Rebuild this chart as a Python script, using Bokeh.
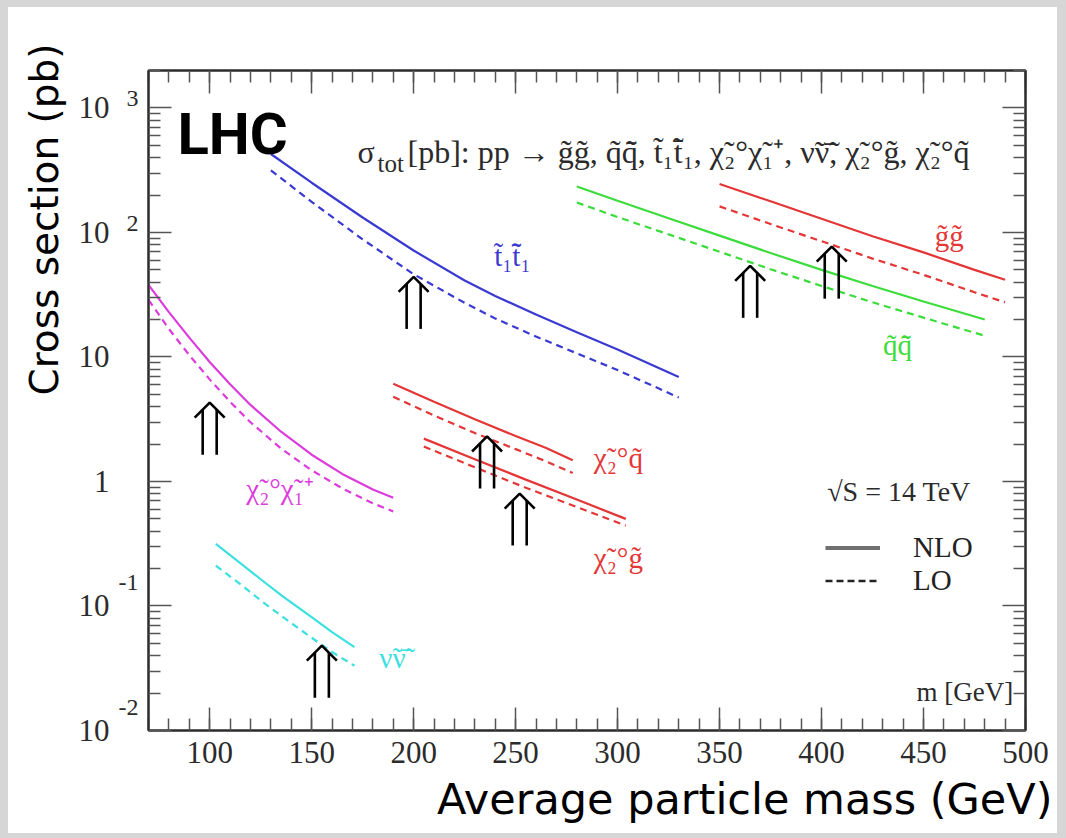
import math
from bokeh.plotting import figure
from bokeh.models import (FixedTicker, LinearAxis, LogAxis, Label, Legend, LegendItem, Title,
                          CustomJSTickFormatter, Range1d)
from bokeh.embed import file_html
from bokeh.resources import INLINE

TIL = "\u0303"   # combining tilde
BAR = "\u0304"   # combining macron
CHI = "\u03c7" + TIL
SUB1, SUB2, SUP_PLUS, DEG = "\u2081", "\u2082", "\u207a", "\u00b0"

# ---- cross sections at the LHC, sqrt(S) = 14 TeV (mass in GeV, sigma in pb) ----
gluino_mass = [350, 375, 400, 425, 450, 475, 490]
gluino_nlo = [245, 178, 129, 93.3, 69.2, 50.1, 41.7]
gluino_lo = [162, 117, 85.1, 61.7, 45.7, 33.1, 27.5]

squark_mass = [280, 300, 325, 350, 375, 400, 425, 450, 480]
squark_nlo = [234, 180, 130, 94.4, 68.4, 50.1, 37.2, 27.9, 20.0]
squark_lo = [174, 133, 96.6, 70.0, 50.7, 37.2, 27.5, 20.7, 14.8]

stop_mass = [130, 150, 175, 200, 225, 240, 260, 280, 300, 330]
stop_nlo = [427, 251, 132, 71.6, 41.2, 30.9, 21.9, 15.8, 11.5, 6.92]
stop_lo = [316, 176, 88.1, 46.2, 27.2, 20.4, 14.6, 10.7, 7.85, 4.73]

chargino_mass = [70, 80, 90, 100, 110, 120, 135, 150, 165, 180, 190]
chargino_nlo = [38.0, 22.9, 14.3, 9.12, 6.03, 4.12, 2.51, 1.64, 1.15, 0.861, 0.741]
chargino_lo = [28.8, 16.8, 10.35, 6.61, 4.37, 2.99, 1.84, 1.23, 0.881, 0.668, 0.575]

sneutrino_mass = [103, 115, 125, 136, 150, 160, 171]
sneutrino_nlo = [0.316, 0.221, 0.164, 0.119, 0.0813, 0.0617, 0.0468]
sneutrino_lo = [0.211, 0.150, 0.111, 0.0813, 0.0556, 0.0427, 0.0331]

neut_squark_mass = [190, 210, 230, 250, 265, 278]
neut_squark_nlo = [6.10, 4.37, 3.16, 2.32, 1.86, 1.48]
neut_squark_lo = [4.79, 3.39, 2.45, 1.82, 1.45, 1.17]

neut_gluino_mass = [205, 230, 255, 280, 304]
neut_gluino_nlo = [2.21, 1.51, 1.035, 0.716, 0.501]
neut_gluino_lo = [1.91, 1.30, 0.891, 0.624, 0.442]

# benchmark masses marked with double arrows (tip position)
arrow_mass = [100, 155, 200, 236, 252, 365, 405]
arrow_sigma = [4.3, 0.048, 44, 2.3, 0.80, 54, 77]

# axis ticks
x_major = [100, 150, 200, 250, 300, 350, 400, 450, 500]
x_minor = list(range(70, 501, 10))
y_major = [0.01, 0.1, 1, 10, 100, 1000]
y_base = ["10", "10", "1", "10", "10", "10"]
y_exp = ["-2", "-1", "", "", "2", "3"]
y_minor = [k * 10.0 ** e for e in range(-2, 4) for k in range(2, 10)]

BLUE, GREEN, RED = "#3a3ad2", "#3cdc3c", "#e43636"
MAGENTA, CYAN = "#dc3cdc", "#3ce0e0"
SERIF = "Liberation Serif"
SANS = "DejaVu Sans"
INK = "#2b2b2b"

PX_PER_DECADE = 124.4   # vertical size of one decade on the frame
PX_PER_GEV = 2.04       # horizontal size of one GeV on the frame

p = figure(width=1066, height=838, x_range=Range1d(70, 500), y_range=Range1d(0.01, 2000),
           y_axis_type="log", output_backend="svg", toolbar_location=None,
           min_border_left=148, min_border_right=41, min_border_top=70, min_border_bottom=108)
p.border_fill_color = None
p.background_fill_color = "white"
p.outline_line_color = INK
p.outline_line_width = 2
p.grid.visible = False
p.styles = {"background-color": "white",
            "box-shadow": "inset 8px 7px 0 0 #d6d6d6, inset -9px -5px 0 0 #d6d6d6"}

blank = CustomJSTickFormatter(code="return ''")


def style_axis(ax, ticks=True):
    ax.axis_line_color = INK if ticks else None
    ax.axis_line_width = 2
    ax.major_tick_in = 23 if ticks else 0
    ax.major_tick_out = 0
    ax.minor_tick_in = 12 if ticks else 0
    ax.minor_tick_out = 0
    ax.major_tick_line_color = "#555555" if ticks else None
    ax.minor_tick_line_color = "#555555" if ticks else None
    ax.major_tick_line_width = 1.5
    ax.minor_tick_line_width = 1.5
    ax.major_label_text_font = SERIF
    ax.major_label_text_color = INK


# bottom axis with labels, top axis mirrored
xb = p.xaxis[0]
xb.ticker = FixedTicker(ticks=x_major, minor_ticks=x_minor)
style_axis(xb)
xb.major_label_text_font_size = "31px"
xb.major_label_standoff = 11

ta = LinearAxis(ticker=FixedTicker(ticks=x_major, minor_ticks=x_minor), formatter=blank)
style_axis(ta)
ta.major_label_standoff = 0
p.add_layout(ta, "above")

# left axis: ticks only; the decade labels come from two label-only axes beside it
yl = p.yaxis[0]
yl.ticker = FixedTicker(ticks=y_major, minor_ticks=y_minor)
yl.formatter = blank
style_axis(yl)
yl.major_label_standoff = 0

exp_ticks, exp_text = [], {}
for v, e in zip(y_major, y_exp):
    if e:
        lift = 23 if e.startswith("-") else 9      # exponent raised above its decade
        pos = v * 10 ** (lift / PX_PER_DECADE)
        exp_ticks.append(pos)
        exp_text[pos] = e
ye = LogAxis(ticker=FixedTicker(ticks=exp_ticks, minor_ticks=[]), major_label_overrides=exp_text)
style_axis(ye, ticks=False)
ye.major_label_text_font_size = "24px"
ye.major_label_standoff = 10
p.add_layout(ye, "left")

yb = LogAxis(ticker=FixedTicker(ticks=y_major, minor_ticks=[]),
             major_label_overrides=dict(zip(y_major, y_base)))
style_axis(yb, ticks=False)
yb.major_label_text_font_size = "31px"
yb.major_label_standoff = 6
p.add_layout(yb, "left")

ra = LogAxis(ticker=FixedTicker(ticks=y_major, minor_ticks=y_minor), formatter=blank)
style_axis(ra)
ra.major_label_standoff = 0
p.add_layout(ra, "right")

# axis titles
p.add_layout(Title(text="Cross section (pb)", align="right", offset=-27, standoff=17,
                   text_font=SANS, text_font_size="39px", text_font_style="normal",
                   text_color="black"), "left")
p.add_layout(Title(text="Average particle mass (GeV)", align="right", offset=-27, standoff=13,
                   text_font=SANS, text_font_size="43px", text_font_style="normal",
                   text_color="black"), "below")

# NLO (solid) and LO (dashed) curves
series = [
    (gluino_mass, gluino_nlo, gluino_lo, RED),
    (squark_mass, squark_nlo, squark_lo, GREEN),
    (stop_mass, stop_nlo, stop_lo, BLUE),
    (chargino_mass, chargino_nlo, chargino_lo, MAGENTA),
    (sneutrino_mass, sneutrino_nlo, sneutrino_lo, CYAN),
    (neut_squark_mass, neut_squark_nlo, neut_squark_lo, RED),
    (neut_gluino_mass, neut_gluino_nlo, neut_gluino_lo, RED),
]
for m, nlo, lo, c in series:
    p.line(m, nlo, line_color=c, line_width=2.2)
    p.line(m, lo, line_color=c, line_width=2.2, line_dash="7 5")


# double arrows: sizes given in screen pixels, converted with the axis scales
def down(s, px):
    return s * 10 ** (-px / PX_PER_DECADE)


head_xs = [[m - 15 / PX_PER_GEV, m, m + 15 / PX_PER_GEV] for m in arrow_mass]
head_ys = [[down(s, 15), s, down(s, 15)] for s in arrow_sigma]
p.multi_line(head_xs, head_ys, line_color="black", line_width=2.6)
for side in (-1, 1):
    p.segment(x0=[m + side * 7 / PX_PER_GEV for m in arrow_mass],
              y0=[down(s, 7) for s in arrow_sigma],
              x1=[m + side * 7 / PX_PER_GEV for m in arrow_mass],
              y1=[down(s, 52) for s in arrow_sigma],
              line_color="black", line_width=2.6)


def note(x, y, text, color=INK, size="29px", align="center", font=SERIF, style="normal"):
    p.add_layout(Label(x=x, y=y, text=text, text_align=align, text_baseline="middle",
                       text_font=font, text_font_size=size, text_color=color,
                       text_font_style=style))


# curve labels
note(248.4, 65.2, "t" + TIL + SUB1 + "t" + TIL + BAR + SUB1, BLUE)
note(462.6, 93.6, "g" + TIL + "g" + TIL, RED)
note(437.2, 12.4, "q" + TIL + "q" + TIL + BAR, GREEN)
note(300.4, 1.537, CHI + SUB2 + DEG + "q" + TIL, RED)
note(300.4, 0.2415, CHI + SUB2 + DEG + "g" + TIL, RED)
note(134.5, 0.866, CHI + SUB2 + DEG + CHI + SUB1 + SUP_PLUS, MAGENTA)
note(189.6, 0.0379, "\u03bd" + TIL + "\u03bd" + TIL + BAR, CYAN)

# header
note(84.2, 618, "LHC", "black", "58px", "left", "Roboto", "bold")
note(172.5, 447, "\u03c3", INK, "32px", "left")
note(182.3, 355, "tot", INK, "25px", "left")
note(197.0, 447, "[pb]: pp \u2192 g" + TIL + "g" + TIL + ", q" + TIL + "q" + TIL + BAR + ", t" + TIL + SUB1
     + "t" + TIL + BAR + SUB1 + ", " + CHI + SUB2 + DEG + CHI + SUB1 + SUP_PLUS + ", \u03bd" + TIL
     + "\u03bd" + TIL + BAR + ", " + CHI + SUB2 + DEG + "g" + TIL + ", " + CHI + SUB2 + DEG + "q" + TIL,
     INK, "32px", "left")
note(402.8, 0.834, "\u221aS = 14 TeV", INK, "28px", "left")
note(494, 0.0202, "m [GeV]", INK, "27px", "right")

# NLO / LO key (proxy renderers carry only the line style)
nan = float("nan")
r_nlo = p.line([nan], [nan], line_color="#707070", line_width=4)
r_lo = p.line([nan], [nan], line_color="#222222", line_width=2.5, line_dash="7 4")
key = Legend(items=[LegendItem(label="NLO", renderers=[r_nlo]),
                    LegendItem(label="LO", renderers=[r_lo])],
             location=(677, 133), glyph_width=55, glyph_height=29, label_height=29,
             label_standoff=33, padding=0, margin=0, spacing=0,
             border_line_color=None, background_fill_color=None,
             label_text_font=SERIF, label_text_font_size="29px", label_text_color="#222222")
p.add_layout(key)

open("out.html", "w").write(file_html(p, INLINE))
